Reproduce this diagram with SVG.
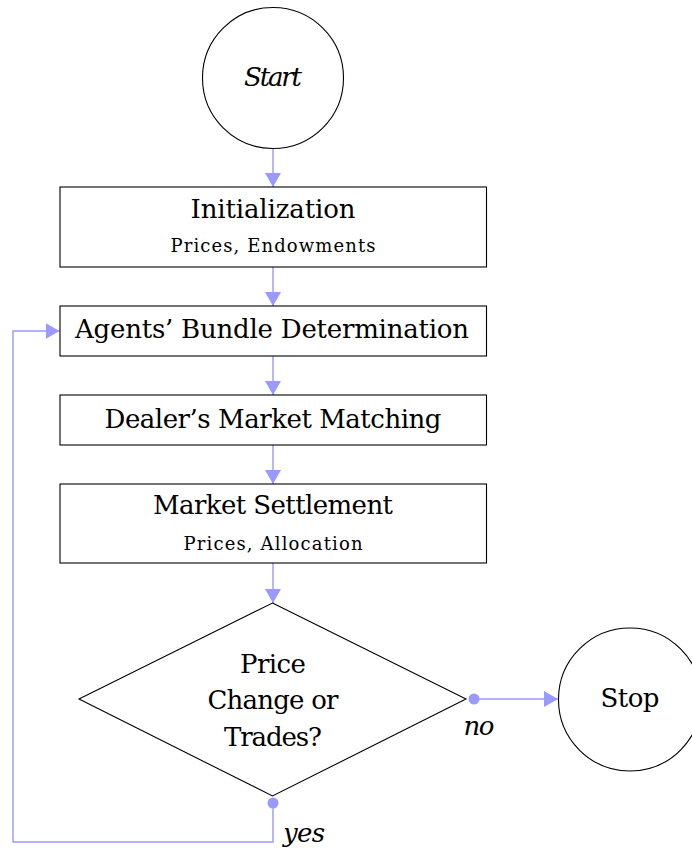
<svg xmlns="http://www.w3.org/2000/svg" width="692" height="852" viewBox="0 0 692 852">
  <style>
    .node { fill: #ffffff; stroke: #000000; stroke-width: 1.1; }
    .lbl { font-family: 'DejaVu Serif', serif; fill: #000000; text-anchor: middle; }
    .big { font-size: 26px; }
    .small { font-size: 18px; }
    .it { font-style: italic; }
    .edge { fill: none; stroke: #9999ff; stroke-width: 1.4; }
  </style>
  <defs>
    <marker id="tri" markerUnits="userSpaceOnUse" markerWidth="16" markerHeight="18" refX="14" refY="8" orient="auto">
      <path d="M0,0 L14,8 L0,16 Z" fill="#9999ff"/>
    </marker>
    <marker id="dot" markerUnits="userSpaceOnUse" markerWidth="12" markerHeight="12" refX="6" refY="6" orient="auto">
      <circle cx="6" cy="6" r="5.5" fill="#9999ff"/>
    </marker>
  </defs>

  <!-- connectors -->
  <g id="edges">
    <path class="edge" d="M273,149 L273,187" marker-end="url(#tri)"/>
    <path class="edge" d="M273,267 L273,306" marker-end="url(#tri)"/>
    <path class="edge" d="M273,356 L273,395" marker-end="url(#tri)"/>
    <path class="edge" d="M273,445 L273,484" marker-end="url(#tri)"/>
    <path class="edge" d="M273,563 L273,603" marker-end="url(#tri)"/>
    <path class="edge" d="M474,699 L558,699" marker-start="url(#dot)" marker-end="url(#tri)"/>
    <path class="edge" d="M273,803 L273,842 L13,842 L13,331 L59.5,331" marker-start="url(#dot)" marker-end="url(#tri)"/>
    <text class="lbl big it" x="479" y="735" textLength="31">no</text>
    <text class="lbl big it" x="304" y="842" textLength="42">yes</text>
  </g>

  <g id="start">
    <circle class="node" cx="273" cy="78" r="70.5"/>
    <text class="lbl big it" x="273" y="86" textLength="58">Start</text>
  </g>

  <g id="init">
    <rect class="node" x="60" y="187" width="426.5" height="80"/>
    <text class="lbl big" x="273" y="218" textLength="165">Initialization</text>
    <text class="lbl small" x="273" y="252" textLength="205">Prices, Endowments</text>
  </g>

  <g id="bundle">
    <rect class="node" x="60" y="306" width="426.5" height="50"/>
    <text class="lbl big" x="272" y="338" textLength="394">Agents’ Bundle Determination</text>
  </g>

  <g id="matching">
    <rect class="node" x="60" y="395" width="426.5" height="50"/>
    <text class="lbl big" x="273" y="427.5" textLength="337">Dealer’s Market Matching</text>
  </g>

  <g id="settlement">
    <rect class="node" x="60" y="484" width="426.5" height="79"/>
    <text class="lbl big" x="273" y="514" textLength="240">Market Settlement</text>
    <text class="lbl small" x="273" y="550" textLength="179">Prices, Allocation</text>
  </g>

  <g id="decision">
    <path class="node" d="M272.5,603 L466,699 L272.5,796 L79,699 Z"/>
    <text class="lbl big" x="273" y="673" textLength="66">Price</text>
    <text class="lbl big" x="273" y="709" textLength="131">Change or</text>
    <text class="lbl big" x="273" y="745.5" textLength="98">Trades?</text>
  </g>

  <g id="stop">
    <circle class="node" cx="630" cy="699.5" r="71.5"/>
    <text class="lbl big" x="630" y="707" textLength="59">Stop</text>
  </g>
</svg>
